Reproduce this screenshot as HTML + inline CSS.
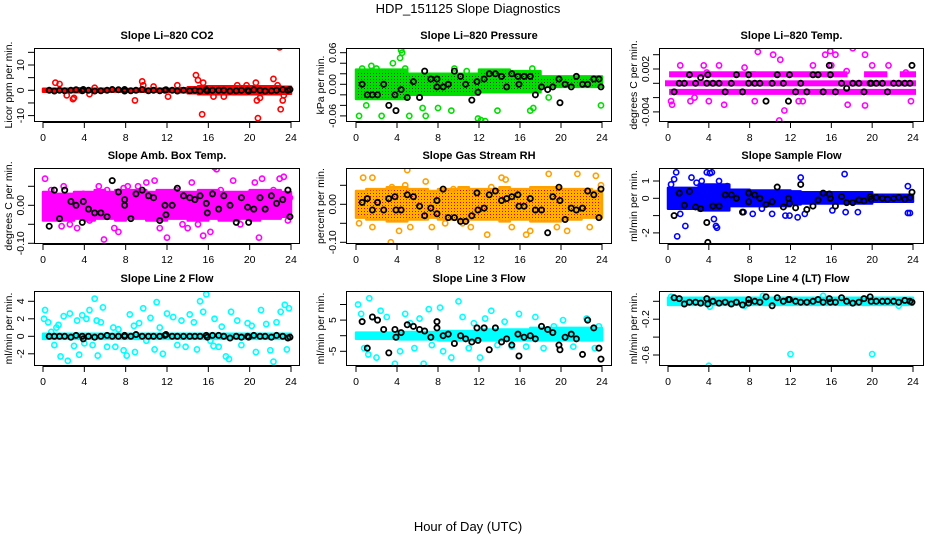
<!DOCTYPE html>
<html><head><meta charset="utf-8"><title>HDP_151125 Slope Diagnostics</title>
<style>
html,body{margin:0;padding:0;background:#fff;}
svg{display:block;font-family:"Liberation Sans",Arial,sans-serif;}
</style></head>
<body>
<svg id="chart" width="936" height="540" viewBox="0 0 936 540" xmlns="http://www.w3.org/2000/svg">
<defs>
<pattern id="patGreen" width="3" height="3" patternUnits="userSpaceOnUse"><rect width="3" height="3" fill="#00e000"/><rect x="1" y="1" width="1" height="1" fill="#104010"/></pattern>
<pattern id="patOrange" width="3" height="3" patternUnits="userSpaceOnUse"><rect width="3" height="3" fill="#ffb000"/><rect x="1" y="1" width="1" height="1" fill="#e00000"/></pattern>
</defs>
<text x="468" y="13" font-size="13" text-anchor="middle">HDP_151125  Slope Diagnostics</text>
<text x="468" y="531" font-size="13" text-anchor="middle">Hour of Day (UTC)</text>
<g id="panels"></g>
</svg>
<script>
// ---- shared data ----
const blackTimes = [0.6,1.1,1.6,2.1,2.7,3.2,3.8,3.9,4.4,5.0,5.6,6.2,6.7,7.3,7.9,7.9,8.5,9.0,9.6,10.2,10.7,11.3,11.8,11.9,12.5,13.0,13.6,14.2,14.7,15.2,15.8,15.9,16.4,17.0,17.5,18.1,18.7,19.2,19.8,19.9,20.4,21.0,21.5,22.1,22.6,23.2,23.7,23.9];
const xTicks = [0,4,8,12,16,20,24];

// Panel 1: CO2
const co2Black = [0,-0.3,0,-0.2,0,0.2,-0.2,0.3,0,-0.3,-0.2,0,0.3,0.2,-0.3,0.3,-0.2,0,0.3,-0.2,0,-0.2,0,0.2,0,-0.3,0,-0.2,0,-0.3,0.2,-0.2,0,0,0,-0.3,-0.2,0,0,-0.3,0.2,0,-0.3,-0.2,0,0.3,0,0.3];
const co2Lo = [-0.6,-0.6,-0.6,-0.8,-0.6,-0.6,-0.5,-0.5,-0.5,-0.6,-0.6,-0.6,-0.6,-0.8,-1.2,-1.6,-1.6,-1.6,-1.6,-1.6,-1.6,-1.6,-1.6,-1.4];
const co2Hi = [0.6,0.6,0.6,0.8,0.6,0.6,0.5,0.5,0.5,0.6,0.6,0.6,0.6,0.8,1.2,1.6,1.6,1.6,1.6,1.6,1.6,1.6,1.6,1.4];
const co2T = [1.2,1.6,2.3,2.9,3.0,5,8.9,9.6,9.7,10.7,12.1,13,14.8,15,15.4,15.5,18.8,19.7,20.6,20.7,20.8,21,22.3,22.9,23,23.2,23.3,22.7,4.5,16.5,17.5];
const co2V = [3,2.5,-2,-3.5,-3,1,-4,3.5,2,1.5,-2.5,2,6,4,-9.5,3,2,2,3,-4,-11,-3,4.5,17,-7.5,-4,-2,2,-1.5,-2.5,-2.5];
const co2YTicks = [-10,-5,0,5,10,15];
const co2YLabels = ["-10","","0","","10",""];

// Panel 2: Pressure
const presBlack = [0.0,-0.02,-0.02,-0.02,0.0,-0.04,-0.02,-0.05,-0.01,-0.025,0.005,-0.025,0.025,0.01,-0.005,0.01,-0.005,0.0,0.025,0.015,0.0,-0.03,0.005,-0.015,0.01,0.02,0.02,0.015,-0.005,0.02,0.015,0.0,0.015,0.015,-0.02,-0.005,-0.01,-0.005,0.01,-0.035,0.0,-0.005,0.015,0.0,0.0,0.01,0.01,-0.005];
const presLo = [-0.028,-0.028,-0.028,-0.028,-0.028,-0.02,-0.02,-0.02,-0.02,-0.02,-0.02,-0.02,-0.015,-0.015,-0.015,-0.015,-0.015,-0.015,-0.005,-0.005,-0.005,-0.005,-0.005,-0.005];
const presHi = [0.028,0.028,0.028,0.028,0.028,0.02,0.02,0.02,0.02,0.02,0.02,0.02,0.028,0.028,0.028,0.025,0.025,0.025,0.015,0.015,0.015,0.015,0.015,0.015];
const presT = [0.3,0.6,1.5,2,2.5,3,3.6,4.3,4.4,4.5,4.8,5.2,6.8,8,9.3,9.6,11.9,12.2,12.6,13.8,17,17.3,17.2,23.9,18.8,1.0,6.5,10.8];
const presV = [-0.06,0.03,0.035,0.03,-0.06,-0.078,0.04,0.05,0.065,0.06,0.03,-0.06,-0.06,-0.045,-0.05,0.03,-0.065,-0.068,-0.07,-0.05,-0.05,-0.045,0.03,-0.04,-0.025,-0.04,-0.045,0.025];
const presYTicks = [-0.06,-0.04,-0.02,0,0.02,0.04,0.06];
const presYLabels = ["-0.06","","","0.00","","","0.06"];

// Panel 3: Li-820 Temp
const tempBlack = [-0.0012,0,0,0.0012,0,0.0008,0,0.0012,0,0,-0.0012,0,0.0012,-0.0012,0,0.0012,0,0,-0.0025,0,0.0012,0,-0.0025,0.0012,-0.0012,0,-0.0012,0.0012,0.0012,-0.0012,0.0025,0.0012,-0.0012,0,-0.0007,0,0,-0.0012,0,0,0,0,-0.0012,0,0,0,0,0.0025];
const tempStripLevel = [0.00126,0.00126,0.00126,0.00126,0,-0.0012];
const tempStripStart = [0.4,8.4,19.5,23.0,0,0.4];
const tempStripEnd = [8.3,17.3,21.2,24.0,24,24];
const tempT = [0.3,0.4,1.2,2.6,3.5,3.8,4,5.5,8.8,8.5,10.3,11,10.9,11.4,13.2,15.4,15.9,16.4,17.6,18.1,19.3,19.3,20,21.6,23.3,23.8,14.2,7.5,16,17.5,2.2,5.0,12.8];
const tempV = [-0.0025,-0.003,0.0025,-0.002,0.0025,0.0015,-0.0025,-0.003,0.0044,-0.0025,0.004,0.0033,-0.0052,-0.0038,-0.0025,0.004,0.0045,0.004,-0.003,0.0049,0.004,-0.0031,0.0025,0.0025,0.0015,-0.0025,0.0025,0.0022,0.0025,0.0017,-0.0025,0.0025,-0.0025];
const tempYTicks = [0.004,0.002,0,-0.002,-0.004];
const tempYLabels = ["","0.002","","","-0.004"];

// Panel 4: Amb. Box Temp
const ambBlack = [-0.055,0.04,-0.035,0.04,0.01,0,-0.045,0.01,-0.01,-0.02,-0.02,-0.03,0.065,0.035,0.015,0.0,-0.035,0.03,0.04,0.025,0.02,-0.04,0.0,-0.025,0.0,0.045,0.025,0.02,0.015,0.025,0.005,-0.02,0.03,-0.01,0.025,0.0,-0.045,0.02,-0.005,-0.045,-0.01,0.02,-0.01,0.025,0.005,0.015,0.04,-0.03];
const ambLo = [-0.04,-0.04,-0.04,-0.035,-0.04,-0.035,-0.035,-0.04,-0.035,-0.035,-0.04,-0.04,-0.035,-0.035,-0.04,-0.04,-0.035,-0.04,-0.04,-0.035,-0.04,-0.035,-0.035,-0.03];
const ambHi = [0.035,0.03,0.03,0.035,0.035,0.04,0.035,0.04,0.04,0.04,0.035,0.04,0.04,0.035,0.035,0.04,0.04,0.035,0.035,0.035,0.04,0.04,0.04,0.035];
const ambT = [0.2,0.8,1.2,2,2.6,3.3,3.9,4.5,5.4,5.9,6.2,6.9,7.3,8.2,9.2,10,10.8,11.3,12,12.9,13.5,14.4,15,15.5,16.2,16.6,16.8,17.2,18.4,19.1,19.9,20.5,20.9,21.2,22.3,22.9,23.3,23.7,23.9,1.8,7.8,14];
const ambV = [0.07,0.04,-0.03,0.05,-0.05,-0.06,0.03,-0.04,0.05,-0.09,0.04,-0.06,-0.07,0.05,0.05,0.06,0.065,-0.06,-0.085,0.04,-0.05,0.06,-0.05,-0.08,-0.07,0.1,0.095,0.04,0.065,-0.05,0.03,0.06,-0.085,0.07,0.04,0.07,0.075,-0.04,0.02,-0.055,0.045,-0.06];
const ambYTicks = [0.05,0,-0.05,-0.1];
const ambYLabels = ["","0.00","","-0.10"];

// Panel 5: Gas Stream RH
const rhBlack = [0.005,0.015,-0.015,0.005,-0.015,0.015,0.02,-0.015,-0.015,0.025,0.02,-0.005,-0.03,-0.01,0.01,-0.025,0.04,-0.035,-0.035,-0.045,-0.045,-0.03,0.03,-0.015,-0.01,0.025,0.035,0.01,0.015,0.02,0.025,-0.005,-0.005,0.015,-0.015,-0.015,-0.075,0.02,0.045,0.01,-0.04,-0.01,-0.015,-0.01,0.035,0.025,-0.035,0.04];
const rhLo = [-0.035,-0.04,-0.04,-0.045,-0.045,-0.04,-0.04,-0.035,-0.04,-0.04,-0.045,-0.04,-0.04,-0.04,-0.045,-0.04,-0.04,-0.045,-0.045,-0.045,-0.04,-0.04,-0.035,-0.035];
const rhHi = [0.035,0.04,0.04,0.045,0.045,0.04,0.04,0.035,0.04,0.04,0.045,0.04,0.04,0.04,0.045,0.04,0.04,0.045,0.045,0.045,0.04,0.04,0.04,0.035];
const rhT = [0.3,0.7,1.6,1.6,3.4,3.5,4.2,4.8,5,5.3,6.8,7.4,8.7,10.4,11.2,12.8,14.2,14.6,15.2,16.6,17,18.8,19.6,20.6,21.6,22.8,23.4,23.9,9.5,13.2];
const rhV = [-0.05,0.07,0.07,-0.06,-0.1,0.045,-0.07,0.05,0.09,-0.06,0.06,-0.06,-0.05,-0.05,-0.06,-0.08,0.07,0.065,-0.06,-0.08,-0.07,0.08,-0.06,-0.07,0.08,-0.06,0.075,0.05,0.04,0.045];
const rhYTicks = [0.05,0,-0.05,-0.1];
const rhYLabels = ["","0.00","","-0.10"];

// Panel 6: Sample Flow
const sfBlack = [-1.0,0.3,-0.4,0.4,-0.5,-0.6,-1.4,-2.55,-0.45,-0.45,0.2,0.2,0,-0.8,0.3,-0.2,0.2,0,-0.35,-0.2,0.65,-0.5,0,-0.3,-0.55,0.8,-0.65,-0.45,-0.1,0.3,0.25,0,-0.45,0.1,-0.25,-0.25,-0.1,-0.15,0.1,-0.05,0.05,0,-0.05,0,0.05,-0.05,0.05,0.35];
const sfLo = [-0.6,-0.6,-0.6,-0.7,-0.7,-0.7,-0.45,-0.45,-0.45,-0.45,-0.45,-0.45,-0.35,-0.3,-0.3,-0.3,-0.3,-0.3,-0.3,-0.3,-0.2,-0.2,-0.2,-0.2];
const sfHi = [0.6,0.6,0.6,0.8,0.8,0.8,0.5,0.5,0.45,0.45,0.45,0.45,0.4,0.35,0.35,0.35,0.35,0.35,0.35,0.35,0.2,0.2,0.2,0.2];
const sfT = [0.3,0.6,0.8,0.9,1.2,1.7,2.3,2.8,3.3,3.8,4.1,4.3,4.5,4.7,4.8,5,5.8,7.4,8.3,9.2,10.2,11.5,11.9,12.7,13,13.4,16.1,17.3,17.4,18.6,23.5,23.5,23.7];
const sfV = [0.8,1.1,1.5,-2.2,-0.9,-1.6,1.2,0.9,1,1.5,1.45,1.5,-1.2,-1.6,-1.7,1,0.7,-0.8,-0.9,-0.6,-0.9,-1,-1,-1.1,1.2,-0.9,-0.7,1.4,-0.8,-0.8,0.7,-0.85,-0.85];
const sfYTicks = [1,0,-1,-2];
const sfYLabels = ["1","0","","-2"];

// Panel 7: Line 2 Flow
const l2Black = [0,0,0,0,-0.1,0.1,0,-0.3,0,-0.1,0,0.1,0,0,0.1,0,0,0.2,0,0,0,0,0.1,0.2,0,0,0,0,0,0,0.1,-0.1,0.1,0.1,0,-0.2,0,-0.1,0,-0.1,0.1,0,0,-0.1,0.1,0,-0.2,-0.1];
const l2Lo = Array(24).fill(-0.3);
const l2Hi = Array(24).fill(0.3);
const l2T = [0.1,0.2,0.5,0.8,1.1,1.3,1.5,1.7,2,2.4,2.6,3,3.3,3.5,3.8,4,4.2,4.5,4.8,5,5.3,5.6,5.8,6.2,6.4,6.8,7,7.3,7.8,8.1,8.4,8.9,9.3,9.7,10,10.4,10.8,11,11.3,11.6,12,12.2,12.6,13,13.4,13.8,14.2,14.6,14.9,15.2,15.5,15.8,16.2,16.6,17,17.3,17.7,18,18.2,18.8,19.2,19.8,20.2,20.6,21.1,21.6,22,22.3,22.6,23,23.4,23.8,23.6,5.2,8.8,16.5];
const l2V = [2,3,1.6,0.5,-1,1,1.3,-2.3,2.3,-2.8,2.6,-1.1,1.8,-2.1,2.4,-0.8,2,3,-1,4.3,-2.2,1.6,3.3,-1.2,-4,1,-1.2,0.8,-1.6,-2.2,2.5,-1.8,1.5,3.2,-0.5,2.1,-1.5,3.9,1,-2,2.6,-4,2.2,-1,1.8,-1.2,2.5,1.6,-1.5,4,2.8,4.8,-0.5,2,-1.2,1.1,-2.3,-2.6,2.8,1.8,-1,1.5,1.2,-1.8,3,1.4,-1.6,-2.9,1.6,2.8,3.6,3.2,-1.5,1.8,1.2,-1.1];
const l2YTicks = [4,2,0,-2];
const l2YLabels = ["4","2","0","-2"];

// Panel 8: Line 3 Flow
const l3Black = [4.5,-4,6,5,2,-5.5,2,-0.5,1,3.5,3,2,1.5,-0.5,4.5,2.5,0,0.5,-2.5,0,-1,-2,2.5,-1.5,2.5,-4.5,2.5,-2,-1,-3,0.5,-6.5,-0.5,0,-1,3,2,1,-3,-4.5,-0.5,0.5,-1,-6,5,2.5,-4,-7.5];
const l3Lo = [-1,-1,-1,-1,-1.2,-1.2,-1.2,-1.2,-1.5,-1.5,-1.5,-1.5,-1.5,-1.5,-1.5,-1.5,-1.5,-1.5,-1.5,-1.5,-1.5,-1.5,-1.5,-1.5];
const l3Hi = [1,1,1,1,1.2,1.2,1.2,1.2,1.5,1.5,1.5,1.5,2,2,2,2,2,2.5,2.5,2.5,2.5,2.5,2.5,2.5];
const l3T = [0.2,0.5,0.8,1.2,1.3,1.6,2,2.4,3,3.8,4.3,4.8,5.3,5.7,6.2,6.6,7.1,7.4,8.2,8.5,9.3,10,10.4,11,11.5,12.1,12.6,13.2,13.8,14.5,15.2,15.9,16.6,17.5,18.3,19.3,20.2,21.2,22.5,23.3,23.7];
const l3V = [10,7,-4,-6,12,6,-7,8,6,-9,-5,7,4,-4,5.5,-9,8.5,-3,9,-5,-7,11,6,-4,4,-7,5.5,8,-3,4.5,-3.5,7,-3.5,6,-4,3,5,-3.5,5.5,-4,3];
const l3YTicks = [10,5,0,-5];
const l3YLabels = ["","5","","-5"];

// Panel 9: Line 4 (LT) Flow
const l4Black = [0.04,0.03,-0.03,-0.01,-0.01,-0.02,0.03,-0.03,0,-0.02,-0.01,-0.03,-0.01,-0.04,0.02,-0.02,0.0,-0.01,0.05,-0.05,0.04,0.0,0.02,0.02,0,-0.01,-0.01,0.0,0.02,-0.01,0.03,-0.01,-0.01,0.04,0.0,-0.02,-0.01,0.03,0.05,0.0,0,0,0,0.0,-0.01,0.01,0.0,-0.01];
const l4Lo = Array(24).fill(-0.04);
const l4Hi = Array(24).fill(0.04);
const l4T = [4,12,20,4.1,9.3,0.3,7.5,15.2,22.6];
const l4V = [-0.72,-0.59,-0.59,-0.06,0.06,0.05,-0.05,0.06,-0.05];
const l4YTicks = [0,-0.2,-0.4,-0.6];
const l4YLabels = ["","-0.2","","-0.6"];

// ---- drawing ----
const NS = "http://www.w3.org/2000/svg";
const root = document.getElementById('panels');
function mk(tag, attrs, parent){ const e=document.createElementNS(NS,tag); for(const k in attrs) e.setAttribute(k,attrs[k]); (parent||root).appendChild(e); return e; }

const colL=[34,346,659], colR=[300,612,924], colX0=[43,356,668], colX24=[291,602,913];
const rowT=[48,168,291], rowB=[122,244,366];

const panels = [
 {name:'co2',title:'Slope Li\u2013820 CO2',ylab:'Licor ppm per min.',col:0,row:0,color:'#ff0000',fill:'#ff0000',ref:[0,90.3,10,65.0],yt:co2YTicks,yl:co2YLabels,blk:co2Black,lo:co2Lo,hi:co2Hi,ct:co2T,cv:co2V},
 {name:'pressure',title:'Slope Li\u2013820 Pressure',ylab:'kPa per min.',col:1,row:0,color:'#00dd00',fill:'url(#patGreen)',ref:[0,84.3,0.06,52.7],yt:presYTicks,yl:presYLabels,blk:presBlack,lo:presLo,hi:presHi,ct:presT,cv:presV},
 {name:'li820-temp',title:'Slope Li\u2013820 Temp.',ylab:'degrees C per min.',col:2,row:0,color:'#ff00ff',fill:'#ff00ff',ref:[0,83.3,0.002,69.0],yt:tempYTicks,yl:tempYLabels,blk:tempBlack,strips:true,ct:tempT,cv:tempV},
 {name:'amb-box-temp',title:'Slope Amb. Box Temp.',ylab:'degrees C per min.',col:0,row:1,color:'#ff00ff',fill:'#ff00ff',ref:[0,205.3,-0.1,243.3],yt:ambYTicks,yl:ambYLabels,blk:ambBlack,lo:ambLo,hi:ambHi,ct:ambT,cv:ambV},
 {name:'gas-stream-rh',title:'Slope Gas Stream RH',ylab:'percent per min.',col:1,row:1,color:'#ffa000',fill:'url(#patOrange)',ref:[0,204.3,-0.1,242.3],yt:rhYTicks,yl:rhYLabels,blk:rhBlack,lo:rhLo,hi:rhHi,ct:rhT,cv:rhV},
 {name:'sample-flow',title:'Slope Sample Flow',ylab:'ml/min per min.',col:2,row:1,color:'#0000ff',fill:'#0000ff',ref:[0,198.3,1,181.0],yt:sfYTicks,yl:sfYLabels,blk:sfBlack,lo:sfLo,hi:sfHi,ct:sfT,cv:sfV},
 {name:'line2-flow',title:'Slope Line 2 Flow',ylab:'ml/min per min.',col:0,row:2,color:'#00ffff',fill:'#00ffff',ref:[0,336.3,4,301.3],yt:l2YTicks,yl:l2YLabels,blk:l2Black,lo:l2Lo,hi:l2Hi,ct:l2T,cv:l2V},
 {name:'line3-flow',title:'Slope Line 3 Flow',ylab:'ml/min per min.',col:1,row:2,color:'#00ffff',fill:'#00ffff',ref:[0,335.7,5,320.1],yt:l3YTicks,yl:l3YLabels,blk:l3Black,lo:l3Lo,hi:l3Hi,ct:l3T,cv:l3V},
 {name:'line4-flow',title:'Slope Line 4 (LT) Flow',ylab:'ml/min per min.',col:2,row:2,color:'#00ffff',fill:'#00ffff',ref:[0,301.3,-0.2,319.2],yt:l4YTicks,yl:l4YLabels,blk:l4Black,lo:l4Lo,hi:l4Hi,ct:l4T,cv:l4V}
];

panels.forEach(p=>{
  const L=colL[p.col],R=colR[p.col],T=rowT[p.row],B=rowB[p.row];
  const xs = t => colX0[p.col] + (colX24[p.col]-colX0[p.col])*t/24;
  const [v1,y1,v2,y2]=p.ref;
  const ys = v => y1 + (v-v1)*(y2-y1)/(v2-v1);
  const g = mk('g',{});
  
  
  const clipId='clip-'+p.name;
  const cp=mk('clipPath',{id:clipId},g); mk('rect',{x:L+1,y:T+1,width:R-L-2,height:B-T-2},cp);
  const plot=mk('g',{'clip-path':'url(#'+clipId+')'},g);
  if(p.strips){
    tempStripLevel.forEach((lv,i)=>{
      const r=mk('rect',{x:xs(tempStripStart[i])-3,y:ys(lv)-3,width:xs(tempStripEnd[i])-xs(tempStripStart[i])+6,height:6,fill:p.fill},plot);
      
      
    });
  } else {
    let d='';
    for(let h=0;h<24;h++){ d+=(h?'L':'M')+xs(h).toFixed(1)+','+ys(p.hi[h]).toFixed(1)+'L'+xs(h+1).toFixed(1)+','+ys(p.hi[h]).toFixed(1); }
    for(let h=23;h>=0;h--){ d+='L'+xs(h+1).toFixed(1)+','+ys(p.lo[h]).toFixed(1)+'L'+xs(h).toFixed(1)+','+ys(p.lo[h]).toFixed(1); }
    const band=mk('path',{d:d+'Z',fill:p.fill,stroke:p.color,'stroke-width':2.5,'stroke-linejoin':'round'},plot);
    
    
  }
  p.ct.forEach((t,i)=>{
    const c=mk('circle',{cx:xs(t),cy:ys(p.cv[i]),r:2.6,fill:'none',stroke:p.color,'stroke-width':1.6},plot);
    
    
  });
  blackTimes.forEach((t,i)=>{
    const c=mk('circle',{cx:xs(t),cy:ys(p.blk[i]),r:2.6,fill:'none',stroke:'#000','stroke-width':1.8},plot);
    
    
  });
  const fr=mk('rect',{x:L+0.5,y:T+0.5,width:R-L-1,height:B-T-1,fill:'none',stroke:'#000','stroke-width':1},g);
  
  
  const ti=mk('text',{x:(L+R)/2,y:T-9,'font-size':11,'font-weight':'bold','text-anchor':'middle'},g);
  ti.textContent=p.title;
  
  
  const xa=mk('g',{},g);
  
  
  mk('line',{x1:xs(0),x2:xs(24),y1:B+0.5,y2:B+0.5,stroke:'#000'},xa);
  xTicks.forEach(v=>{
    mk('line',{x1:xs(v),x2:xs(v),y1:B,y2:B+6,stroke:'#000'},xa);
    const tx=mk('text',{x:xs(v),y:B+19,'font-size':10.5,'text-anchor':'middle'},xa);
    tx.textContent=String(v);
    
    
  });
  const ya=mk('g',{},g);
  
  
  const yv=p.yt.map(ys);
  mk('line',{x1:L+0.5,x2:L+0.5,y1:Math.min(...yv),y2:Math.max(...yv),stroke:'#000'},ya);
  p.yt.forEach((v,i)=>{
    const y=ys(v);
    mk('line',{x1:L-6,x2:L,y1:y,y2:y,stroke:'#000'},ya);
    if(p.yl[i]){
      const tx=mk('text',{x:L-10,y:y,'font-size':10.5,'text-anchor':'middle',transform:'rotate(-90 '+(L-10)+' '+y+')'},ya);
      tx.textContent=p.yl[i];
      
      
    }
  });
  const yt=mk('text',{x:L-22,y:(T+B)/2,'font-size':10.5,'text-anchor':'middle',transform:'rotate(-90 '+(L-22)+' '+((T+B)/2)+')'},g);
  yt.textContent=p.ylab;
  
  
});
</script>
</body></html>
